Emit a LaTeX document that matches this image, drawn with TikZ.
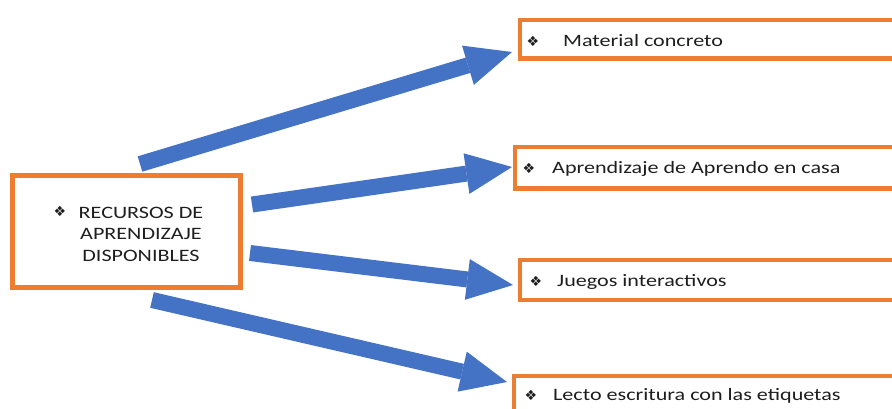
\documentclass[tikz,border=0pt]{standalone}
\usepackage{fontspec}
\setmainfont{Carlito}[FakeStretch=1.27]
\newfontfamily\symfnt{DejaVu Sans}
\usetikzlibrary{arrows.meta,calc}
\definecolor{boxorange}{HTML}{ED7D31}
\definecolor{arrowblue}{HTML}{4472C4}
\definecolor{txtgray}{HTML}{1E1E1E}
\tikzset{
  framebox/.style={draw=boxorange, line width=4.5pt, fill=white, inner sep=0pt, outer sep=0pt, rectangle},
  bigarrow/.style={draw=arrowblue, line width=16pt,
    -{Triangle[width=41pt,length=46pt,line width=0pt]}},
  itemtext/.style={anchor=base west, inner sep=0pt, text=txtgray, font=\fontsize{17.4}{21.5}\selectfont},
  bulletmark/.style={anchor=center, inner sep=0pt, text=txtgray, font=\symfnt\fontsize{14}{14}\selectfont}
}
\begin{document}
\begin{tikzpicture}[x=1pt,y=-1pt]
\useasboundingbox (0,0) rectangle (892,408);
\clip (0,0) rectangle (892,408);
\fill[white] (0,0) rectangle (892,408);
% boxes
\node[framebox, minimum width=228pt, minimum height=112pt] (L) at (126.5,231.5) {};
\node[framebox, minimum width=400pt, minimum height=38.5pt, anchor=west] (B1) at (520,39.25) {};
\node[framebox, minimum width=400pt, minimum height=41.5pt, anchor=west] (B2) at (515,167.75) {};
\node[framebox, minimum width=400pt, minimum height=40pt, anchor=west] (B3) at (520,280) {};
\node[framebox, minimum width=400pt, minimum height=60pt, anchor=north west] (B4) at (514,376) {};
% texts
\node[bulletmark] (lb) at (60,211) {❖};
\node[inner sep=0pt, align=center, text=txtgray, font=\fontsize{17.4}{21.5}\selectfont] (lt) at (141,234) {RECURSOS DE\\APRENDIZAJE\\DISPONIBLES};
\node[bulletmark] (b1m) at (533,41) {❖};
\node[itemtext] (b1t) at (563,46) {Material concreto};
\node[bulletmark] (b2m) at (529,168) {❖};
\node[itemtext] (b2t) at (552,173) {Aprendizaje de Aprendo en casa};
\node[bulletmark] (b3m) at (536,281) {❖};
\node[itemtext] (b3t) at (557,286) {Juegos interactivos};
\node[bulletmark] (b4m) at (531,395) {❖};
\node[itemtext] (b4t) at (553,400) {Lecto escritura con las etiquetas};
% arrows
\draw[bigarrow] ($(L.north)+(13.5,-11.5)$) -- ($(B1.west)+(-8,12.75)$);
\draw[bigarrow] ($(L.east)+(11.5,-27)$) -- ($(B2.west)+(-3,-0.75)$);
\draw[bigarrow] ($(L.east)+(9.5,21.5)$) -- ($(B3.west)+(-7,5)$);
\draw[bigarrow] ($(L.south)+(25.5,12.5)$) -- ($(B4.north west)+(-7,6)$);
\end{tikzpicture}
\end{document}
